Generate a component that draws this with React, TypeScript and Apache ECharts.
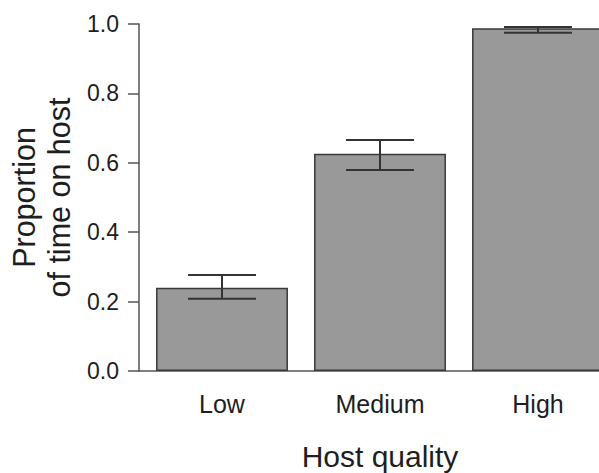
import React, { useEffect, useRef } from "react";
import * as echarts from "echarts";

// Host quality categories and mean proportion of time spent on host
const categories: string[] = ["Low", "Medium", "High"];
const proportions: number[] = [0.24, 0.626, 0.988];
// Error bar limits
const lowerLimits: number[] = [0.208, 0.579, 0.975];
const upperLimits: number[] = [0.277, 0.666, 0.991];

const FONT = '"Liberation Sans", Arial, Helvetica, sans-serif';

export default function App() {
  const ref = useRef<HTMLDivElement>(null);

  useEffect(() => {
    if (!ref.current) return;
    const chart = echarts.init(ref.current, undefined, { renderer: "svg" });

    const errorData = categories.map((_, i) => [i, lowerLimits[i], upperLimits[i]]);

    chart.setOption({
      animation: false,
      backgroundColor: "#ffffff",
      textStyle: { fontFamily: FONT },
      grid: [
        // bars
        { left: 143, right: -18, top: 24, bottom: 102, containLabel: false, outerBoundsMode: "none" },
        // axis frame
        { left: 139, right: 0, top: 24, bottom: 102, containLabel: false, outerBoundsMode: "none" },
      ],
      xAxis: [
        {
          type: "category",
          gridIndex: 0,
          data: categories,
          axisLine: { show: false },
          axisTick: { show: false },
          axisLabel: { fontSize: 25, color: "#1e1e1e", margin: 20, fontFamily: FONT },
          name: "Host quality",
          nameLocation: "middle",
          nameGap: 70,
          nameTextStyle: { fontSize: 30, color: "#1e1e1e", fontFamily: FONT },
        },
        {
          type: "value",
          gridIndex: 1,
          min: 0,
          max: 1,
          axisLine: { show: true, lineStyle: { color: "#555", width: 1.5 } },
          axisTick: { show: false },
          axisLabel: { show: false },
          splitLine: { show: false },
        },
      ],
      yAxis: [
        { type: "value", gridIndex: 0, min: 0, max: 1, show: false },
        {
          type: "value",
          gridIndex: 1,
          min: 0,
          max: 1,
          interval: 0.2,
          axisLine: { show: true, lineStyle: { color: "#555", width: 1.5 } },
          axisTick: { show: true, length: 11, lineStyle: { color: "#555", width: 1.5 } },
          axisLabel: {
            fontSize: 23,
            color: "#1e1e1e",
            margin: 20,
            fontFamily: FONT,
            formatter: (v: number) => v.toFixed(1),
          },
          splitLine: { show: false },
          name: "Proportion\nof time on host",
          nameLocation: "middle",
          nameRotate: 90,
          nameGap: 62,
          nameTextStyle: { fontSize: 30.5, color: "#1e1e1e", lineHeight: 35, fontFamily: FONT },
        },
      ],
      series: [
        {
          type: "bar",
          xAxisIndex: 0,
          yAxisIndex: 0,
          data: proportions,
          barWidth: "83.5%",
          itemStyle: { color: "#999999", borderColor: "#3a3a3a", borderWidth: 1.5 },
        },
        {
          type: "custom",
          xAxisIndex: 0,
          yAxisIndex: 0,
          data: errorData,
          z: 5,
          renderItem: (_params: any, api: any) => {
            const idx = api.value(0);
            const lo = api.coord([idx, api.value(1)]);
            const hi = api.coord([idx, api.value(2)]);
            const half = api.size([1, 0])[0] * 0.215;
            const style = { stroke: "#333", lineWidth: 2 };
            return {
              type: "group",
              children: [
                { type: "line", shape: { x1: hi[0], y1: hi[1], x2: lo[0], y2: lo[1] }, style },
                { type: "line", shape: { x1: hi[0] - half, y1: hi[1], x2: hi[0] + half, y2: hi[1] }, style },
                { type: "line", shape: { x1: lo[0] - half, y1: lo[1], x2: lo[0] + half, y2: lo[1] }, style },
              ],
            };
          },
        },
      ],
    });

    return () => chart.dispose();
  }, []);

  return (
    <div
      ref={ref}
      style={{ position: "fixed", left: 0, top: 0, width: 599, height: 473 }}
    />
  );
}
